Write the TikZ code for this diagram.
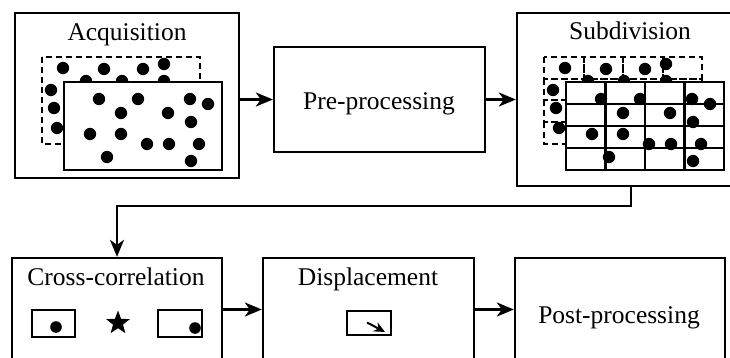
\documentclass[tikz,border=0pt]{standalone}
\usepackage{fontspec}
\setmainfont{Liberation Serif}
\usetikzlibrary{arrows.meta,shapes.geometric}
\newcommand\backdots{\foreach \x/\y in {63/68,104/69,143/69,164/64,86/81,122/81,164/81,51/90,54/108,57/128} \fill (\x,\y) circle (6.2pt);}
\newcommand\frontdots{\foreach \x/\y in {99/99,138/99,190/99,208/104,121/113,168/113,191/122,90/134,121/134,147/144,169/144,199/144,107/157,191/161} \fill (\x,\y) circle (6.2pt);}
\begin{document}
\begin{tikzpicture}[x=1pt,y=-1pt,line width=2.3pt,
  box/.style={draw,fill=white,inner sep=0pt},
  ttl/.style={font=\fontsize{25.5}{28}\selectfont,anchor=base,inner sep=0pt},
  dsh/.style={dash pattern=on 6pt off 4pt,line width=2pt},
  arr/.style={-{Stealth[length=17pt,width=14pt,inset=5pt]}}]
\path[use as bounding box,clip] (0,0) rectangle (730,358);

% main boxes
\node[box,minimum width=224pt,minimum height=165pt] (acq) at (127,95.5) {};
\node[box,minimum width=211pt,minimum height=105pt] (pre) at (379.5,99.5) {};
\node[box,minimum width=228pt,minimum height=173pt] (sub) at (631,99.5) {};
\node[box,minimum width=210pt,minimum height=110pt] (cross) at (117,313) {};
\node[box,minimum width=211pt,minimum height=110pt] (disp) at (368.5,313) {};
\node[box,minimum width=210pt,minimum height=110pt] (post) at (620,313) {};

% titles
\node[ttl] (tacq) at (127,41) {Acquisition};
\node[ttl] (tpre) at (379,110) {Pre-processing};
\node[ttl] (tsub) at (630,40) {Subdivision};
\node[ttl] (tcross) at (116,285) {Cross-correlation};
\node[ttl] (tdisp) at (368,285) {Displacement};
\node[ttl] (tpost) at (619,323) {Post-processing};

% acquisition content
\draw[dsh] (42,57) rectangle (200,144);
\backdots
\draw[fill=white] (64,82) rectangle (222,170);
\frontdots

% subdivision content
\begin{scope}[xshift=502pt]
  \foreach \i in {0,1,2,3} \foreach \j in {0,1,2,3}
    \draw[dsh] ({42+39.5*\i},{57+21.75*\j}) rectangle ({42+39.5*(\i+1)},{57+21.75*(\j+1)});
  \backdots
  \draw[fill=white] (64,82) rectangle (222,170);
  \foreach \i in {1,2,3} \draw ({64+39.5*\i},82) -- ({64+39.5*\i},170);
  \foreach \j in {1,2,3} \draw (64,{82+22*\j}) -- (222,{82+22*\j});
  \frontdots
\end{scope}

% cross-correlation content
\draw (32,310) rectangle (75,337);
\fill (56,327) circle (5.8pt);
\node[star,star points=5,star point ratio=2.4,fill=black,inner sep=0pt,minimum size=25pt] (star) at (118,323) {};
\draw (158,310) rectangle (202,337);
\fill (195,328) circle (5.8pt);

% displacement content
\draw (347,311) rectangle (391,335);
\draw[line width=2pt,-{Stealth[length=11pt,width=10pt]}] (367,322.5) -- (385,332);

% connectors
\draw[arr] (acq.east |- pre.west) -- (pre.west);
\draw[arr] (pre.east) -- (sub.west);
\draw[arr] (sub.south) -- ++(0,19) -| (cross.north);
\draw[arr] ([yshift=3.5pt]cross.east) -- ([yshift=3.5pt]disp.west);
\draw[arr] ([yshift=3.5pt]disp.east) -- ([yshift=3.5pt]post.west);
\end{tikzpicture}
\end{document}
